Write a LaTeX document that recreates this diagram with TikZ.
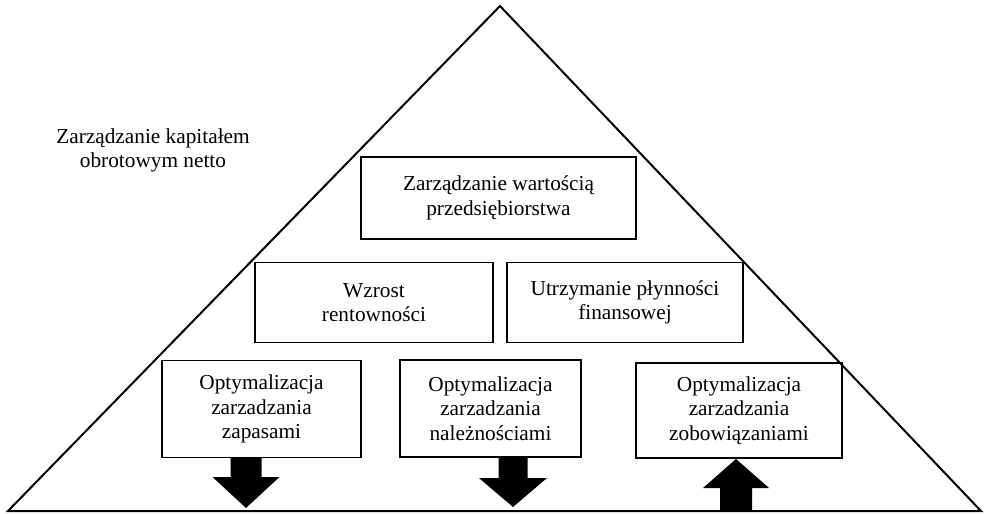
\documentclass[tikz,border=0pt]{standalone}
\usepackage{fontspec}
\setmainfont{Liberation Serif}
\usetikzlibrary{calc}
\begin{document}
\begin{tikzpicture}[x=1pt,y=-1pt,
  box/.style={draw,line width=1.2pt,inner sep=0pt,align=center,
    font=\fontsize{21.3}{24.5}\selectfont},
  lbl/.style={inner sep=0pt,align=center,font=\fontsize{21.3}{24.5}\selectfont},
  fatarrow/.style={fill=black,draw=none}]
\useasboundingbox (0,0) rectangle (989,514);
% triangle
\coordinate (apex) at (500,6);
\coordinate (bl) at (8,511);
\coordinate (br) at (981,511);
\draw[line width=2pt,line join=miter] (bl) -- (apex) -- (br) -- cycle;
% caption
\node[lbl] (cap) at (153,150.5) {Zarządzanie kapitałem\\obrotowym netto};
% boxes
\node[box,minimum width=275pt,minimum height=82pt] (top) at (498.5,198) {Zarządzanie wartością\\przedsiębiorstwa};
\node[box,minimum width=238pt,minimum height=80pt] (ml) at (374,302.5) {Wzrost\\rentowności};
\node[box,minimum width=236pt,minimum height=80pt] (mr) at (625,302.5) {Utrzymanie płynności\\finansowej};
\node[box,minimum width=199pt,minimum height=97pt] (b1) at (261.5,409) {Optymalizacja\\zarzadzania\\zapasami};
\node[box,minimum width=181pt,minimum height=97pt] (b2) at (490.5,408.5) {Optymalizacja\\zarzadzania\\należnościami};
\node[box,minimum width=206pt,minimum height=95pt] (b3) at (739,410.5) {Optymalizacja\\zarzadzania\\zobowiązaniami};
% arrows
\coordinate (t1) at (246,508);
\coordinate (t2) at (513,507);
\coordinate (t3) at (736,459);
\coordinate (e3) at (736,510);
\fill[fatarrow] ($(b1.south -| t1)+(-15.5,0)$) -- ($(b1.south -| t1)+(15.5,0)$)
  -- ($(t1)+(15.5,-31)$) -- ($(t1)+(33.5,-31)$) -- (t1) -- ($(t1)+(-33.5,-31)$)
  -- ($(t1)+(-15.5,-31)$) -- cycle;
\fill[fatarrow] ($(b2.south -| t2)+(-14.5,0)$) -- ($(b2.south -| t2)+(14.5,0)$)
  -- ($(t2)+(14.5,-29)$) -- ($(t2)+(34,-29)$) -- (t2) -- ($(t2)+(-34,-29)$)
  -- ($(t2)+(-14.5,-29)$) -- cycle;
\fill[fatarrow] ($(e3)+(-16,0)$) -- ($(e3)+(16,0)$) -- ($(t3)+(16,29)$)
  -- ($(t3)+(33,29)$) -- (t3) -- ($(t3)+(-33,29)$) -- ($(t3)+(-16,29)$) -- cycle;
\end{tikzpicture}
\end{document}
